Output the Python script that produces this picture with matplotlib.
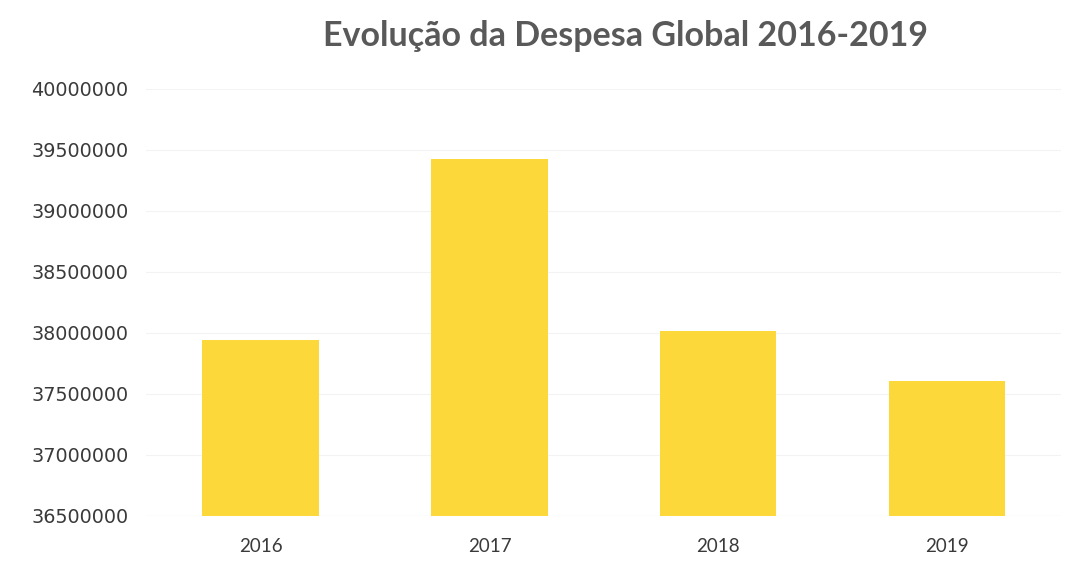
import matplotlib
matplotlib.use("Agg")
import matplotlib.pyplot as plt

years = ["2016", "2017", "2018", "2019"]
despesa = [37943000, 39426000, 38016000, 37607000]
yticks = [36500000, 37000000, 37500000, 38000000, 38500000, 39000000, 39500000, 40000000]

fig = plt.figure(figsize=(10.73, 5.73), dpi=100)
ax = fig.add_axes([0.1365, 0.0995, 0.8525, 0.7452])

ax.bar(range(len(years)), despesa, width=0.51, color="#FDD83B", zorder=3)
ax.set_xlim(-0.5, len(years) - 0.5)
ax.set_ylim(36500000, 40000000)
ax.set_yticks(yticks)
ax.set_yticklabels([str(v) for v in yticks], fontsize=13.8, color="#3A3A3A", family="DejaVu Sans")
ax.set_xticks(range(len(years)))
ax.set_xticklabels(years, fontsize=13.5, color="#3A3A3A", family="Lato")
ax.tick_params(axis="y", length=0, pad=13)
ax.tick_params(axis="x", length=0, pad=16)
ax.grid(axis="y", color="#F3F3F3", linewidth=0.8, zorder=0)
for s in ax.spines.values():
    s.set_visible(False)
ax.axhline(36500000, color="#EAEAEA", linewidth=0.8, zorder=1)

fig.text(0.583, 0.937, "Evolução da Despesa Global 2016-2019", ha="center", va="center",
         fontsize=24.5, fontweight="bold", color="#595959", family="Lato")

fig.savefig("out.png", dpi=100)
